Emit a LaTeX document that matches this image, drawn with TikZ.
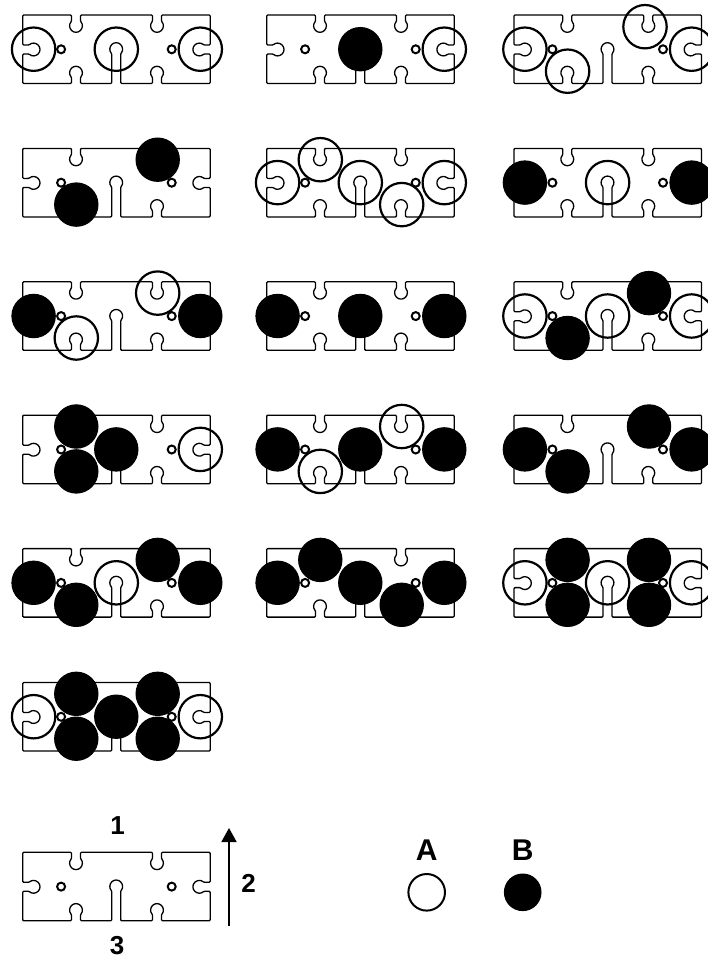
\documentclass[tikz,border=0pt]{standalone}
\usepackage{fontspec}
\setmainfont{Liberation Sans}
\usetikzlibrary{arrows.meta}
\tikzset{x=1pt,y=1pt,
 plateline/.style={draw=black,line width=1.3pt,line join=round,rounded corners=1pt},
 openatom/.style={draw=black,line width=2.2pt},
 solidatom/.style={draw=black,line width=1pt,fill=black},
 hole/.style={draw=black,line width=2pt,fill=white},
 lab/.style={font=\bfseries\fontsize{26}{26}\selectfont,inner sep=0pt,anchor=center},
 biglab/.style={font=\bfseries\fontsize{30}{30}\selectfont,inner sep=0pt,anchor=center}}
\newcommand{\platepath}{%
 \draw[plateline] (0,0) -- (48.8,0) -- (48.8,-6.6)
  arc[start angle=135.6,end angle=404.4,radius=6.3] -- (57.8,0)
  -- (129.8,0) -- (129.8,-6.6)
  arc[start angle=135.6,end angle=404.4,radius=6.3] -- (138.8,0)
  -- (187.5,0) -- (187.5,-30) -- (180.9,-30)
  arc[start angle=45.6,end angle=314.4,radius=6.3] -- (187.5,-39)
  -- (187.5,-68.5) -- (138.8,-68.5) -- (138.8,-62)
  arc[start angle=-44.4,end angle=224.4,radius=6.3] -- (129.8,-68.5)
  -- (98,-68.5) -- (98,-38.4)
  arc[start angle=-44.4,end angle=224.4,radius=6.3] -- (89,-68.5)
  -- (57.8,-68.5) -- (57.8,-62)
  arc[start angle=-44.4,end angle=224.4,radius=6.3] -- (48.8,-68.5)
  -- (0,-68.5) -- (0,-39) -- (6.6,-39)
  arc[start angle=225.6,end angle=494.4,radius=6.3] -- (0,-30) -- cycle;}
\newcommand{\Panel}[3]{%
 \begin{scope}[shift={(#1,-#2)}]
  \platepath
  \coordinate (L) at (10.9,-34.2);
  \coordinate (C) at (93.6,-34.2);
  \coordinate (R) at (177.6,-34.2);
  \coordinate (TL) at (53.6,-11.3);
  \coordinate (BL) at (53.6,-56.2);
  \coordinate (TR) at (135,-11.3);
  \coordinate (BR) at (135,-56.2);
  \coordinate (TRs) at (131,-11.7);
  \foreach \k/\p in {#3}{\path[\k] (\p) circle[radius=21.7];}
  \path[hole] (38.4,-34.3) circle[radius=4];
  \path[hole] (149,-34.3) circle[radius=4];
 \end{scope}}
\begin{document}
\begin{tikzpicture}
\useasboundingbox (0,0) rectangle (708,-958);
\def\a{openatom}\def\b{solidatom}
\def\ca{22.7}\def\cb{266.7}\def\cc{514}
\Panel{\ca}{15}{\a/L,\a/C,\a/R}
\Panel{\cb}{15}{\b/C,\a/R}
\Panel{\cc}{15}{\a/L,\a/BL,\a/TRs,\a/R}
\Panel{\ca}{148.4}{\b/BL,\b/TR}
\Panel{\cb}{148.4}{\a/L,\a/TL,\a/C,\a/BR,\a/R}
\Panel{\cc}{148.4}{\b/L,\a/C,\b/R}
\Panel{\ca}{281.8}{\b/L,\a/BL,\a/TR,\b/R}
\Panel{\cb}{281.8}{\b/L,\b/C,\b/R}
\Panel{\cc}{281.8}{\a/L,\b/BL,\a/C,\b/TR,\a/R}
\Panel{\ca}{415.2}{\b/TL,\b/BL,\b/C,\a/R}
\Panel{\cb}{415.2}{\b/L,\a/BL,\b/C,\a/TR,\b/R}
\Panel{\cc}{415.2}{\b/L,\b/BL,\b/TR,\b/R}
\Panel{\ca}{548.6}{\b/L,\b/BL,\a/C,\b/TR,\b/R}
\Panel{\cb}{548.6}{\b/L,\b/TL,\b/C,\b/BR,\b/R}
\Panel{\cc}{548.6}{\a/L,\b/TL,\b/BL,\a/C,\b/TR,\b/BR,\a/R}
\Panel{\ca}{682.5}{\a/L,\b/TL,\b/BL,\b/C,\b/TR,\b/BR,\a/R}
\Panel{\ca}{852.3}{}
\coordinate (arrowfoot) at (229,-926);
\coordinate (arrowtip) at (229,-828);
\draw[line width=1.8pt,-{Triangle[length=14pt,width=15pt]}] (arrowfoot) -- (arrowtip);
\node[lab] (n1) at (117.5,-826) {1};
\node[lab] (n2) at (248.5,-883) {2};
\node[lab] (n3) at (117,-945.5) {3};
\node[biglab] (la) at (426.7,-849.7) {A};
\node[biglab] (lb) at (522.7,-849.7) {B};
\node[circle,draw=black,line width=2pt,minimum size=36.6pt,inner sep=0pt] (ka) at (426.7,-892.3) {};
\node[circle,draw=black,fill=black,line width=1pt,minimum size=36.6pt,inner sep=0pt] (kb) at (522.7,-892.3) {};
\end{tikzpicture}
\end{document}
